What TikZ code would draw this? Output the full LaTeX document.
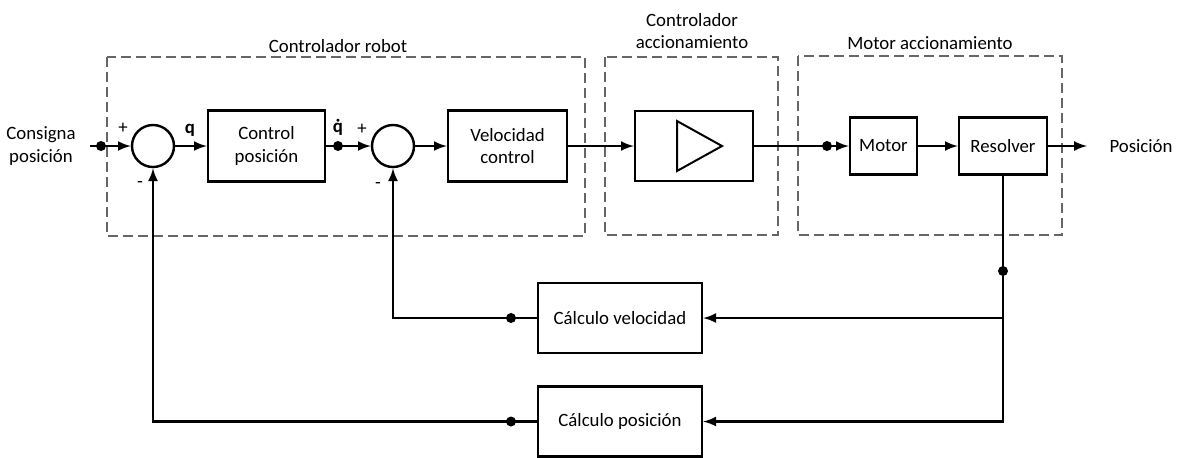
\documentclass[tikz,border=0pt]{standalone}
\usepackage{fontspec}
\setmainfont{Carlito}
\usetikzlibrary{positioning}

\tikzset{
  block/.style={draw,rectangle,line width=1.2pt,inner sep=0pt,align=center},
  sumc/.style={draw,circle,line width=1.2pt,minimum size=21pt,inner sep=0pt},
  group/.style={draw=black!60,dash pattern=on 5pt off 2.5pt,line width=0.7pt},
  wire/.style={line width=1.2pt},
  junc/.style={circle,fill,inner sep=0pt,minimum size=5pt},
}

\begin{document}
\begin{tikzpicture}[x=0.5pt,y=-0.5pt,>=latex,font=\fontsize{9.4}{11.2}\selectfont]
			\useasboundingbox (0,0) rectangle (1179,457);
			% dashed groups
			\draw[group] (107,57) rectangle (585,236);
			\draw[group] (605,57) rectangle (778,235);
			\draw[group] (798,56) rectangle (1062,235);
			\node (GRob) at (338,46) {Controlador robot};
			\node[align=center] (GAcc) at (692,31) {Controlador\\accionamiento};
			\node (GMot) at (930,43) {Motor accionamiento};
			% blocks
			\node[align=center] (Ref) at (41,146) {Consigna\\posición};
			\node[sumc] (Sum1) at (153,146) {};
			\node[block,minimum width=58.5pt,minimum height=35.5pt] (CPos) at (266.5,146) {Control\\posición};
			\node[sumc] (Sum2) at (393,146) {};
			\node[block,minimum width=59.5pt,minimum height=35.5pt] (VCtrl) at (507.5,146) {Velocidad\\control};
			\node[block,minimum width=59pt,minimum height=35pt] (Amp) at (694,146) {};
			\draw[line width=1pt] (677,121) -- (722,146) -- (677,171) -- cycle;
			\node[block,minimum width=33.5pt,minimum height=28.5pt] (Mot) at (883.5,146) {Motor};
			\node[block,minimum width=44pt,minimum height=28.5pt] (Res) at (1003,146) {Resolver};
			\node (Pos) at (1141,146) {Posición};
			\node[block,minimum width=82pt,minimum height=35pt] (CVel) at (620,318) {Cálculo velocidad};
			\node[block,minimum width=82pt,minimum height=35pt] (CPo) at (620,421.5) {Cálculo posición};
			% signs
			\node (P1) at (123,128) {+};
			\node (M1) at (140,184) {-};
			\node (Q) at (190,130) {\textbf{q}};
			\node (Qd) at (338,127) {\bfseries\accent"02D9 q};
			\node (P2) at (362,129) {+};
			\node (M2) at (378,185) {-};
			% junctions
			\node[junc] (J1) at (101,146) {};
			\node[junc] (J2) at (338,146) {};
			\node[junc] (J3) at (827,146) {};
			\node[junc] (J4) at (1003,271) {};
			\node[junc] (J5) at (511,318) {};
			\node[junc] (J6) at (511,421.5) {};
			\coordinate (In) at (90,146);
			\coordinate (Out) at (1087,146);
			% forward path
			\draw[wire,->] (In) -- (Sum1.west);
			\draw[wire,->] (Sum1.east) -- (CPos.west);
			\draw[wire,->] (CPos.east) -- (Sum2.west);
			\draw[wire,->] (Sum2.east) -- (VCtrl.west);
			\draw[wire,->] (VCtrl.east) -- (Amp.west);
			\draw[wire,->] (Amp.east) -- (Mot.west);
			\draw[wire,->] (Mot.east) -- (Res.west);
			\draw[wire,->] (Res.east) -- (Out);
			% feedback
			\draw[wire,->] (Res.south) |- (CPo.east);
			\draw[wire,->] (Res.south |- CVel.east) -- (CVel.east);
			\draw[wire,->] (CVel.west) -- (J5.center) -| (Sum2.south);
			\draw[wire,->] (CPo.west) -- (J6.center) -| (Sum1.south);
		\end{tikzpicture}
\end{document}
